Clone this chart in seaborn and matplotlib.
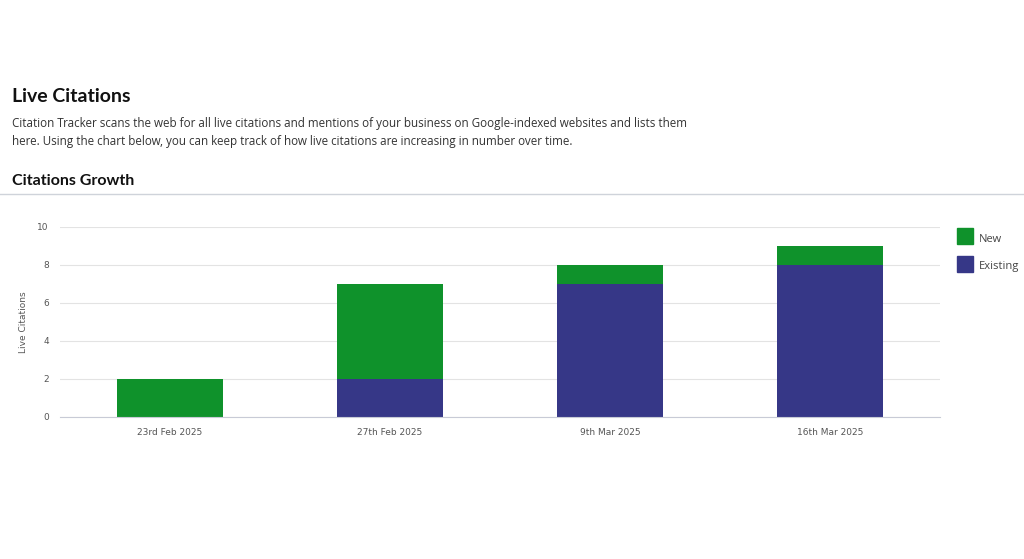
import matplotlib
matplotlib.use("Agg")
import matplotlib.pyplot as plt
import seaborn as sns
import pandas as pd
import numpy as np

dates = ["23rd Feb 2025", "27th Feb 2025", "9th Mar 2025", "16th Mar 2025"]
existing = [0, 2, 7, 8]
new = [2, 5, 1, 1]
yticks = [0, 2, 4, 6, 8, 10]

GREEN = "#0f922b"
NAVY = "#363787"
W, H = 1024, 559
fig = plt.figure(figsize=(W/100, H/100), dpi=100)
fig.patch.set_facecolor("white")

def fx(x): return x / W
def fy(y): return 1 - y / H

fig.text(fx(12), fy(96), "Live Citations", fontsize=14, fontweight="bold", family="Lato", va="center", color="#111")
fig.text(fx(12), fy(123), "Citation Tracker scans the web for all live citations and mentions of your business on Google-indexed websites and lists them",
         fontsize=8.4, family="Open Sans", va="center", color="#333")
fig.text(fx(12), fy(141), "here. Using the chart below, you can keep track of how live citations are increasing in number over time.",
         fontsize=8.4, family="Open Sans", va="center", color="#333")
fig.text(fx(12), fy(181), "Citations Growth", fontsize=11.5, fontweight="bold", family="Lato", va="center", color="#111")
fig.add_artist(plt.Line2D([0, 1], [fy(194), fy(194)], color="#cfd3da", lw=1))

ax = fig.add_axes([fx(60), fy(417), fx(940 - 60), (417 - 227) / H])
df = pd.DataFrame({"date": dates, "existing": existing,
                   "total": np.array(existing) + np.array(new)})
sns.barplot(data=df, x="date", y="total", color=GREEN, width=0.48, ax=ax, saturation=1)
sns.barplot(data=df, x="date", y="existing", color=NAVY, width=0.48, ax=ax, saturation=1)
ax.set_ylim(0, 10)
ax.set_yticks(yticks)
ax.set_xlim(-0.5, 3.5)
ax.grid(axis="y", color="#e3e3e3", lw=0.8)
ax.set_axisbelow(True)
for s in ["top", "right", "left"]:
    ax.spines[s].set_visible(False)
ax.spines["bottom"].set_color("#c8cbd6")
ax.tick_params(length=0, labelsize=6.5, colors="#555", pad=8)
ax.set_xlabel("")
ax.set_ylabel("Live Citations", fontsize=6.5, color="#555")
ax.yaxis.set_label_coords(-(60 - 28) / 880, 0.5)

for y, lab, c in [(236, "New", GREEN), (264, "Existing", NAVY)]:
    fig.add_artist(plt.Rectangle((fx(957), fy(y + 8)), 16 / W, 16 / H, color=c))
    fig.text(fx(979), fy(y + 3), lab, fontsize=8, color="#444", va="center", family="Open Sans")

fig.savefig("out.png", dpi=100)
